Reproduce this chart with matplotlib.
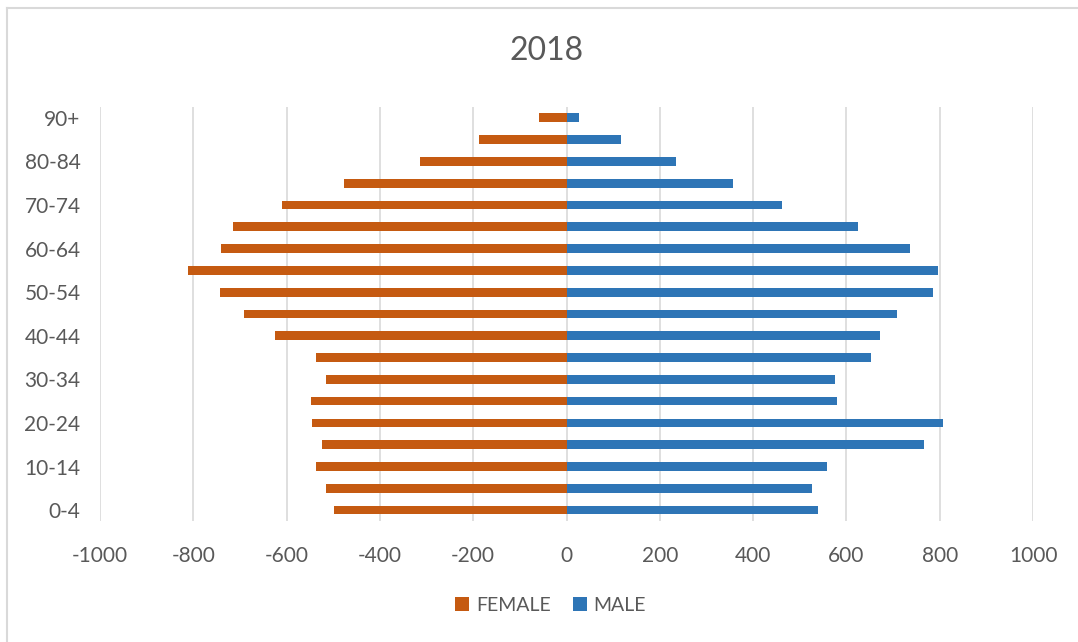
import matplotlib.pyplot as plt
import numpy as np
from matplotlib.lines import Line2D

age_groups = ['0-4', '5-9', '10-14', '15-19', '20-24', '25-29', '30-34', '35-39',
              '40-44', '45-49', '50-54', '55-59', '60-64', '65-69', '70-74',
              '75-79', '80-84', '85-89', '90+']
female = [-498, -515, -537, -524, -546, -548, -515, -538, -624, -692,
          -743, -812, -741, -714, -611, -478, -314, -188, -58]
male = [538, 527, 559, 767, 808, 580, 576, 652, 671, 709,
        785, 797, 737, 625, 461, 356, 235, 116, 27]
x_ticks = [-1000, -800, -600, -400, -200, 0, 200, 400, 600, 800, 1000]

plt.rcParams['font.family'] = ['Lato', 'DejaVu Sans']
grey = '#595959'

fig = plt.figure(figsize=(10.78, 6.42), dpi=100)
ax = fig.add_axes([0.0928, 0.1885, 0.8655, 0.6449])

y = np.arange(len(age_groups))
ax.barh(y, female, height=0.4, color='#C55A11', label='FEMALE', zorder=3)
ax.barh(y, male, height=0.4, color='#2E75B6', label='MALE', zorder=3)

ax.set_xlim(-1000, 1000)
ax.set_ylim(-0.5, len(age_groups) - 0.5)
ax.set_xticks(x_ticks)
ax.set_xticklabels([str(t) for t in x_ticks])
ax.set_yticks(y[::2])
ax.set_yticklabels(age_groups[::2])
ax.tick_params(axis='x', length=0, pad=18, labelsize=15, labelcolor=grey)
ax.tick_params(axis='y', length=0, pad=14, labelsize=15, labelcolor=grey)
ax.grid(axis='x', color='#D9D9D9', linewidth=1.2, zorder=0)
for s in ax.spines.values():
    s.set_visible(False)

fig.text(0.507, 0.921, '2018', ha='center', va='center', fontsize=23, color=grey)

fig.legend(loc='center', bbox_to_anchor=(0.5107, 0.0576), ncol=2, frameon=False,
           fontsize=14, labelcolor=grey, handlelength=0.72, handleheight=0.72,
           handletextpad=0.36, columnspacing=1.13)

# chart frame (only top and left edges visible in the screenshot)
fig.add_artist(Line2D([7 / 1078, 7 / 1078], [0, 1 - 8 / 642], transform=fig.transFigure,
                      color='#D9D9D9', linewidth=1.5))
fig.add_artist(Line2D([7 / 1078, 1], [1 - 8 / 642, 1 - 8 / 642], transform=fig.transFigure,
                      color='#D9D9D9', linewidth=1.5))

fig.savefig('out.png', dpi=100)
